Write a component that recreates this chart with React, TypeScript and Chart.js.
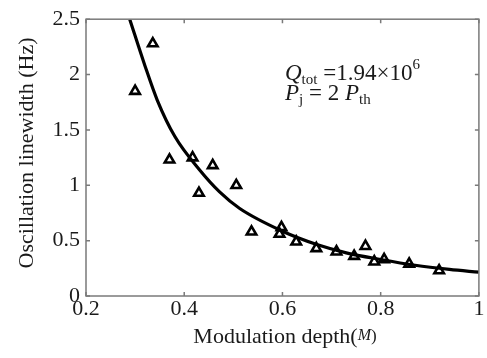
import React, { useEffect, useRef } from "react";
import { Chart, registerables } from "chart.js";

Chart.register(...registerables);

// measured points (Modulation depth M, linewidth Hz)
const measM = [0.30, 0.336, 0.37, 0.417, 0.43, 0.458, 0.506, 0.537, 0.598, 0.594, 0.628, 0.669, 0.71, 0.746, 0.769, 0.787, 0.807, 0.858, 0.919];
const measW = [1.85, 2.28, 1.23, 1.25, 0.93, 1.18, 1.0, 0.58, 0.62, 0.56, 0.49, 0.43, 0.40, 0.36, 0.45, 0.31, 0.33, 0.29, 0.23];

// fitted curve
const fitM = [0.289, 0.32, 0.345, 0.381, 0.431, 0.472, 0.513, 0.6, 0.67, 0.73, 0.8, 0.87, 0.94, 1.0];
const fitW = [2.5, 2.08, 1.77, 1.44, 1.14, 0.94, 0.79, 0.585, 0.465, 0.39, 0.33, 0.278, 0.24, 0.215];

const xTicks = [0.2, 0.4, 0.6, 0.8, 1];
const yTicks = [0, 0.5, 1, 1.5, 2, 2.5];

const SERIF = "'Liberation Serif', 'DejaVu Serif', serif";
const FRAME = "#7a7a7a";
const INK = "#1a1a1a";

const fmt = (v: number) => String(Number(Number(v).toFixed(2)));

function drawRuns(ctx: CanvasRenderingContext2D, x: number, y: number, runs: { t: string; f: string; dy?: number }[]) {
  let cx = x;
  for (const r of runs) {
    ctx.font = r.f;
    ctx.fillText(r.t, cx, y + (r.dy || 0));
    cx += ctx.measureText(r.t).width;
  }
  return cx;
}

function measureRuns(ctx: CanvasRenderingContext2D, runs: { t: string; f: string }[]) {
  let w = 0;
  for (const r of runs) {
    ctx.font = r.f;
    w += ctx.measureText(r.t).width;
  }
  return w;
}

const decoPlugin = {
  id: "deco",
  beforeDraw(chart: any) {
    const ctx = chart.ctx;
    ctx.save();
    ctx.fillStyle = "#ffffff";
    ctx.fillRect(0, 0, chart.width, chart.height);
    ctx.restore();
  },
  afterDraw(chart: any) {
    const ctx: CanvasRenderingContext2D = chart.ctx;
    const { left, right, top, bottom } = chart.chartArea;
    const xs = chart.scales.x;
    const ys = chart.scales.y;
    ctx.save();
    // frame
    ctx.strokeStyle = FRAME;
    ctx.lineWidth = 1.5;
    ctx.strokeRect(left, top, right - left, bottom - top);
    // inward ticks
    const tl = 4;
    ctx.beginPath();
    for (const v of xTicks) {
      const px = xs.getPixelForValue(v);
      ctx.moveTo(px, bottom);
      ctx.lineTo(px, bottom - tl);
      ctx.moveTo(px, top);
      ctx.lineTo(px, top + tl);
    }
    for (const v of yTicks) {
      const py = ys.getPixelForValue(v);
      ctx.moveTo(left, py);
      ctx.lineTo(left + tl, py);
      ctx.moveTo(right, py);
      ctx.lineTo(right - tl, py);
    }
    ctx.stroke();

    ctx.fillStyle = INK;
    ctx.textBaseline = "alphabetic";
    ctx.textAlign = "left";
    // x title
    const xRuns = [
      { t: "Modulation depth(", f: `22px ${SERIF}` },
      { t: "M", f: `italic 16px ${SERIF}`, dy: -3 },
      { t: ")", f: `17px ${SERIF}`, dy: -2 },
    ];
    const xw = measureRuns(ctx, xRuns);
    drawRuns(ctx, 285 - xw / 2, 343, xRuns);

    // y title
    ctx.save();
    ctx.translate(33, 153);
    ctx.rotate(-Math.PI / 2);
    ctx.font = `22px ${SERIF}`;
    ctx.textAlign = "center";
    ctx.fillText("Oscillation linewidth (Hz)", 0, 0);
    ctx.restore();

    // annotation
    ctx.textAlign = "left";
    drawRuns(ctx, 285, 80, [
      { t: "Q", f: `italic 23px ${SERIF}` },
      { t: "tot", f: `15px ${SERIF}`, dy: 4 },
      { t: " =1.94\u00d710", f: `23px ${SERIF}` },
      { t: "6", f: `15px ${SERIF}`, dy: -11 },
    ]);
    drawRuns(ctx, 285, 100, [
      { t: "P", f: `italic 23px ${SERIF}` },
      { t: "j", f: `15px ${SERIF}`, dy: 4 },
      { t: " = 2 ", f: `23px ${SERIF}` },
      { t: "P", f: `italic 23px ${SERIF}` },
      { t: "th", f: `15px ${SERIF}`, dy: 4 },
    ]);
    ctx.restore();
  },
};

export default function App() {
  const ref = useRef<HTMLCanvasElement | null>(null);
  useEffect(() => {
    if (!ref.current) return;
    const chart = new Chart(ref.current, {
      type: "scatter",
      data: {
        datasets: [
          {
            label: "fit",
            data: fitM.map((m, i) => ({ x: m, y: fitW[i] })),
            showLine: true,
            borderColor: "#000000",
            borderWidth: 3.2,
            pointRadius: 0,
            cubicInterpolationMode: "monotone",
            order: 2,
          } as any,
          {
            label: "measured",
            data: measM.map((m, i) => ({ x: m, y: measW[i] })),
            pointStyle: "triangle",
            pointRadius: 5.5,
            borderColor: "#000000",
            borderWidth: 2.6,
            backgroundColor: "rgba(255,255,255,0)",
            showLine: false,
            order: 1,
          } as any,
        ],
      },
      options: {
        animation: false,
        responsive: true,
        maintainAspectRatio: false,
        layout: { padding: { left: 0, right: 7, top: 15, bottom: 0 } },
        plugins: { legend: { display: false }, tooltip: { enabled: false } },
        scales: {
          x: {
            type: "linear",
            min: 0.2,
            max: 1,
            afterBuildTicks: (s: any) => {
              s.ticks = xTicks.map((v) => ({ value: v }));
            },
            afterFit: (s: any) => {
              s.height = 62;
            },
            grid: { display: false, drawTicks: false },
            border: { display: false },
            ticks: {
              padding: 0,
              color: INK,
              font: { family: SERIF, size: 22 },
              callback: (v: any) => fmt(v),
              maxRotation: 0,
              autoSkip: false,
            },
          },
          y: {
            type: "linear",
            min: 0,
            max: 2.5,
            afterBuildTicks: (s: any) => {
              s.ticks = yTicks.map((v) => ({ value: v }));
            },
            afterFit: (s: any) => {
              s.width = 86;
            },
            grid: { display: false, drawTicks: false },
            border: { display: false },
            ticks: {
              padding: 6,
              color: INK,
              font: { family: SERIF, size: 22 },
              callback: (v: any) => fmt(v),
              autoSkip: false,
            },
          },
        },
      },
      plugins: [decoPlugin],
    });
    return () => chart.destroy();
  }, []);
  return (
    <div style={{ position: "absolute", left: 0, top: 0, width: 487, height: 358, background: "#fff" }}>
      <canvas ref={ref} />
    </div>
  );
}
